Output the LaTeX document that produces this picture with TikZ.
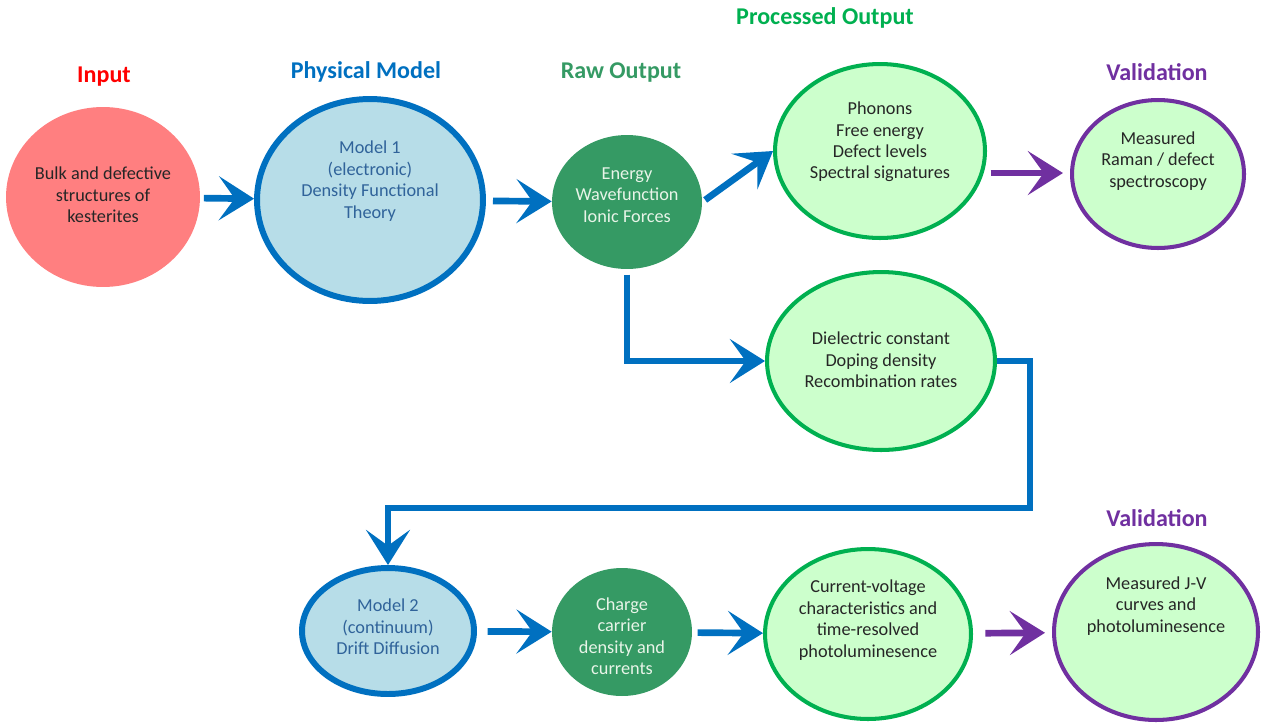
\documentclass[tikz,border=0pt]{standalone}
\usepackage{fontspec}
\setmainfont{Carlito}
\usetikzlibrary{shapes.geometric, arrows.meta}

\definecolor{inred}{HTML}{FF7F80}
\definecolor{headred}{HTML}{FF0000}
\definecolor{mblue}{HTML}{0070C0}
\definecolor{mfill}{HTML}{B7DDE8}
\definecolor{mtext}{HTML}{30639A}
\definecolor{rawgreen}{HTML}{359A64}
\definecolor{rawtext}{HTML}{E8F4E8}
\definecolor{pgreen}{HTML}{00B050}
\definecolor{pfill}{HTML}{CCFFCC}
\definecolor{vpurple}{HTML}{7030A0}
\definecolor{txtdark}{HTML}{262626}

\begin{document}
\begin{tikzpicture}[x=0.02cm, y=-0.02cm,
	blob/.style={ellipse, inner sep=0pt},
	model/.style={blob, draw=mblue, line width=3.4pt, fill=mfill},
	proc/.style={blob, draw=pgreen, line width=2.3pt, fill=pfill},
	valid/.style={blob, draw=vpurple, line width=2.3pt, fill=pfill},
	body/.style={align=center, font=\fontsize{10.4}{12.2}\selectfont, text=txtdark},
	head/.style={font=\fontsize{13.7}{16}\selectfont\bfseries},
	flow/.style={draw=mblue, line width=3.8pt, -{Stealth[length=20pt, width=25pt, inset=9pt]}},
	check/.style={flow, draw=vpurple}]

	\useasboundingbox (0,0) rectangle (1263,724);

	% headings
	\node[head, text=headred] (hin) at (104,77) {Input};
	\node[head, text=mblue] (hmod) at (366,72) {Physical Model};
	\node[head, text=rawgreen] (hraw) at (621,72) {Raw Output};
	\node[head, text=pgreen] (hproc) at (825,18) {Processed Output};
	\node[head, text=vpurple] (hval) at (1157,72) {Validation};
	\node[head, text=vpurple] (hvalb) at (1157,518) {Validation};

	% top row
	\node[blob, fill=inred, minimum width=3.88cm, minimum height=3.6cm] (in) at (103,197) {};
	\node[body] (intext) at (103,195) {Bulk and defective\\structures of\\kesterites};

	\node[model, minimum width=4.52cm, minimum height=4.04cm] (mone) at (370,200) {};
	\node[body, text=mtext] (monetext) at (370,181) {Model 1\\(electronic)\\Density Functional\\Theory};

	\node[blob, fill=rawgreen, minimum width=3.0cm, minimum height=2.68cm] (raw) at (627,202) {};
	\node[body, text=rawtext] (rawtext) at (627,195) {Energy\\Wavefunction\\Ionic Forces};

	\node[proc, minimum width=4.2cm, minimum height=3.48cm] (pone) at (880,151) {};
	\node[body] (ponetext) at (880,142) {Phonons\\Free energy\\Defect levels\\Spectral signatures};

	\node[valid, minimum width=3.44cm, minimum height=2.96cm] (vone) at (1158,174) {};
	\node[body] (vonetext) at (1158,161) {Measured\\Raman / defect\\spectroscopy};

	\node[proc, minimum width=4.56cm, minimum height=3.56cm] (ptwo) at (881,361) {};
	\node[body] (ptwotext) at (881,360) {Dielectric constant\\Doping density\\Recombination rates};

	% bottom row
	\node[model, minimum width=3.44cm, minimum height=2.52cm] (mtwo) at (388,631) {};
	\node[body, text=mtext] (mtwotext) at (388,627) {Model 2\\(continuum)\\Drift Diffusion};

	\node[blob, fill=rawgreen, minimum width=2.8cm, minimum height=2.56cm] (cc) at (622,632) {};
	\node[body, text=rawtext] (cctext) at (622,636) {Charge\\carrier\\density and\\currents};

	\node[proc, minimum width=4.12cm, minimum height=3.4cm] (pthree) at (868,634) {};
	\node[body] (pthreetext) at (868,620) {Current-voltage\\characteristics and\\time-resolved\\photoluminesence};

	\node[valid, minimum width=4.08cm, minimum height=3.52cm] (vtwo) at (1156,632) {};
	\node[body] (vtwotext) at (1156,606) {Measured J-V\\curves and\\photoluminesence};

	% connectors
	\coordinate (turn) at (1030,508);
	\draw[flow, shorten <=2pt] (in) -- (mone);
	\draw[flow, shorten <=4pt] (mone) -- (raw);
	\draw[flow, shorten <=2pt] (raw.east) -- (pone.west);
	\draw[flow, shorten <=3pt] (raw.south) |- (ptwo.west);
	\draw[flow] (ptwo.east) -| (turn) -| (mtwo.north);
	\draw[flow, shorten <=6pt] (mtwo) -- (cc);
	\draw[flow, shorten <=3pt] (cc) -- (pthree);
	\draw[check, shorten <=4pt, shorten >=4pt] (pone.-12) -- (pone.-12 -| vone.west);
	\draw[check, shorten <=7pt, shorten >=4pt] (pthree) -- (vtwo);
\end{tikzpicture}
\end{document}
